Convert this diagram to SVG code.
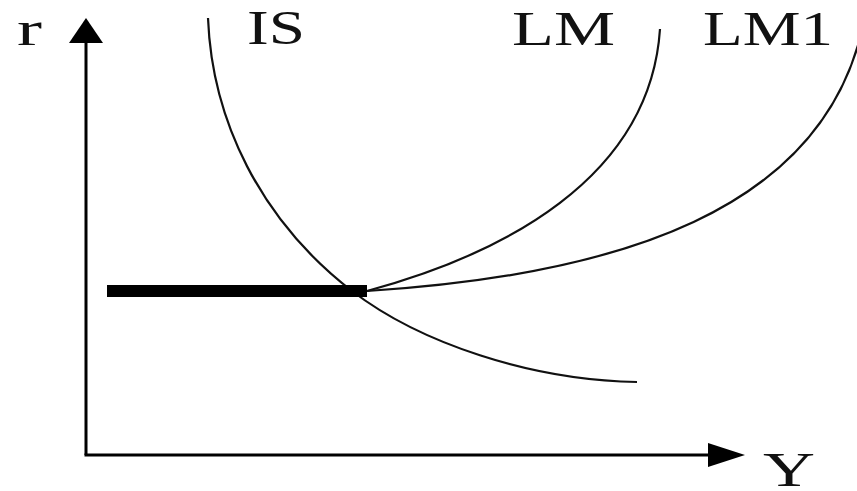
<svg xmlns="http://www.w3.org/2000/svg" width="857" height="491" viewBox="0 0 857 491">
<style>
.lbl{font-family:"Liberation Serif","Times New Roman",serif;font-size:49px;fill:#111}
.axis{stroke:#000;stroke-width:3;fill:none}
.curve{stroke:#111;stroke-width:2.2;fill:none}
</style>
<rect width="857" height="491" fill="#fff"/>
<g id="axes">
<line class="axis" x1="86" y1="455" x2="86" y2="40"/>
<line class="axis" x1="84.5" y1="455" x2="712" y2="455"/>
<polygon points="86,18 69,43 103,43" fill="#000"/>
<polygon points="745,455 708,443 708,467" fill="#000"/>
</g>
<g id="curves">
<path id="IS" class="curve" d="M208,18 C212,120 260,220 352,291 C420,343 530,380 637,382"/>
<path id="LM" class="curve" d="M367,291 C500,255 650,180 660,29"/>
<path id="LM1" class="curve" d="M367,291 C620,275 820,210 862,30"/>
<line id="floor" x1="107" y1="291" x2="367" y2="291" stroke="#000" stroke-width="12"/>
</g>
<g id="labels">
<text class="lbl" x="17" y="45" textLength="25" lengthAdjust="spacingAndGlyphs">r</text>
<text class="lbl" x="247" y="44" textLength="58" lengthAdjust="spacingAndGlyphs">IS</text>
<text class="lbl" x="512" y="45" textLength="103" lengthAdjust="spacingAndGlyphs">LM</text>
<text class="lbl" x="703" y="45" textLength="130" lengthAdjust="spacingAndGlyphs">LM1</text>
<text class="lbl" x="763" y="486" textLength="52" lengthAdjust="spacingAndGlyphs">Y</text>
</g>
</svg>
